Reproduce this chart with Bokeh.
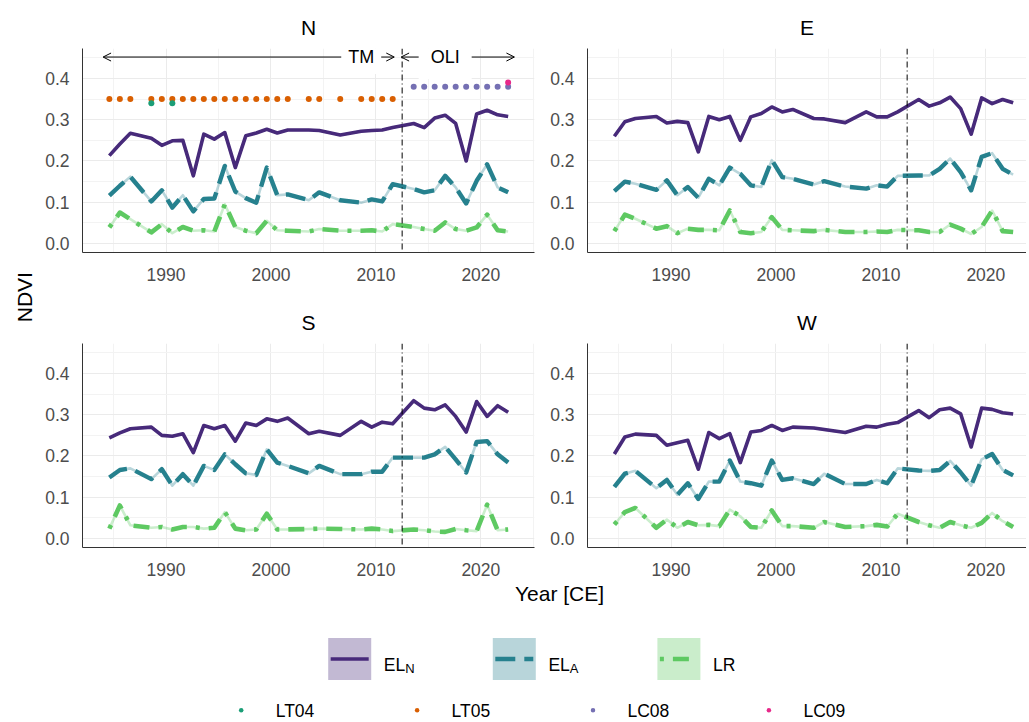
import math
from bokeh.plotting import figure
from bokeh.models import (Range1d, FixedTicker, NumeralTickFormatter, Span, Arrow,
                          OpenHead, Label)
from bokeh.layouts import row, column
from bokeh.embed import file_html
from bokeh.resources import INLINE
from bokeh.core.properties import value

# ---------------- data ----------------
YEARS = [1984.6, 1985.6, 1986.6, 1988.6, 1989.6, 1990.6, 1991.6, 1992.6, 1993.6, 1994.6,
         1995.6, 1996.6, 1997.6, 1998.6, 1999.6, 2000.6, 2001.6, 2003.6, 2004.6, 2006.6,
         2008.6, 2009.6, 2010.6, 2011.6, 2013.6, 2014.6, 2015.6, 2016.6, 2017.6, 2018.6,
         2019.6, 2020.6, 2021.6, 2022.6]

N_ELN = [0.213, 0.241, 0.267, 0.255, 0.238, 0.249, 0.250, 0.164, 0.265, 0.253,
         0.269, 0.184, 0.261, 0.268, 0.277, 0.268, 0.275, 0.275, 0.274, 0.263,
         0.272, 0.274, 0.275, 0.281, 0.291, 0.281, 0.304, 0.311, 0.291, 0.200,
         0.314, 0.323, 0.312, 0.308]
N_ELA = [0.116, 0.140, 0.162, 0.102, 0.129, 0.087, 0.117, 0.078, 0.108, 0.109,
         0.188, 0.126, 0.110, 0.099, 0.184, 0.117, 0.119, 0.105, 0.124, 0.105,
         0.099, 0.107, 0.102, 0.144, 0.132, 0.124, 0.129, 0.164, 0.136, 0.097,
         0.152, 0.192, 0.136, 0.124]
N_LR = [0.039, 0.075, 0.059, 0.027, 0.047, 0.025, 0.040, 0.031, 0.032, 0.029,
        0.095, 0.040, 0.031, 0.025, 0.055, 0.032, 0.031, 0.029, 0.035, 0.031,
        0.031, 0.032, 0.029, 0.047, 0.040, 0.035, 0.031, 0.051, 0.035, 0.031,
        0.039, 0.070, 0.032, 0.029]

E_ELN = [0.260, 0.295, 0.303, 0.308, 0.292, 0.296, 0.293, 0.222, 0.308, 0.300,
         0.308, 0.250, 0.307, 0.315, 0.331, 0.319, 0.325, 0.303, 0.302, 0.293,
         0.319, 0.307, 0.307, 0.319, 0.349, 0.333, 0.341, 0.355, 0.327, 0.265,
         0.353, 0.339, 0.349, 0.341]
E_ELA = [0.127, 0.150, 0.145, 0.130, 0.153, 0.117, 0.137, 0.111, 0.157, 0.141,
         0.184, 0.169, 0.141, 0.137, 0.202, 0.161, 0.157, 0.143, 0.151, 0.138,
         0.133, 0.141, 0.138, 0.164, 0.165, 0.165, 0.181, 0.206, 0.173, 0.129,
         0.210, 0.219, 0.181, 0.167]
E_LR = [0.030, 0.070, 0.060, 0.036, 0.042, 0.025, 0.036, 0.033, 0.033, 0.032,
        0.080, 0.028, 0.025, 0.028, 0.064, 0.033, 0.032, 0.030, 0.033, 0.028,
        0.028, 0.029, 0.028, 0.033, 0.032, 0.028, 0.028, 0.046, 0.036, 0.023,
        0.040, 0.080, 0.030, 0.028]

S_ELN = [0.244, 0.256, 0.266, 0.270, 0.250, 0.248, 0.254, 0.208, 0.274, 0.266,
         0.274, 0.236, 0.280, 0.274, 0.290, 0.284, 0.292, 0.254, 0.260, 0.250,
         0.284, 0.270, 0.282, 0.278, 0.334, 0.316, 0.312, 0.324, 0.296, 0.258,
         0.332, 0.296, 0.322, 0.306]
S_ELA = [0.148, 0.166, 0.170, 0.144, 0.168, 0.128, 0.156, 0.128, 0.176, 0.166,
         0.204, 0.180, 0.158, 0.154, 0.216, 0.184, 0.176, 0.158, 0.176, 0.156,
         0.156, 0.162, 0.162, 0.196, 0.196, 0.196, 0.204, 0.222, 0.192, 0.160,
         0.234, 0.236, 0.204, 0.184]
S_LR = [0.024, 0.080, 0.032, 0.026, 0.028, 0.022, 0.028, 0.028, 0.024, 0.026,
        0.064, 0.024, 0.020, 0.022, 0.060, 0.022, 0.022, 0.023, 0.024, 0.023,
        0.022, 0.024, 0.022, 0.018, 0.022, 0.020, 0.017, 0.016, 0.023, 0.020,
        0.018, 0.082, 0.020, 0.022]

W_ELN = [0.205, 0.246, 0.253, 0.250, 0.226, 0.232, 0.238, 0.168, 0.257, 0.242,
         0.254, 0.184, 0.258, 0.262, 0.274, 0.262, 0.270, 0.268, 0.264, 0.257,
         0.272, 0.270, 0.277, 0.281, 0.310, 0.293, 0.312, 0.316, 0.302, 0.222,
         0.316, 0.313, 0.305, 0.302]
W_ELA = [0.125, 0.157, 0.164, 0.122, 0.142, 0.106, 0.134, 0.096, 0.138, 0.138,
         0.189, 0.138, 0.134, 0.128, 0.189, 0.142, 0.146, 0.132, 0.157, 0.132,
         0.132, 0.142, 0.134, 0.170, 0.165, 0.164, 0.166, 0.188, 0.160, 0.128,
         0.192, 0.205, 0.166, 0.153]
W_LR = [0.034, 0.064, 0.074, 0.026, 0.046, 0.026, 0.040, 0.032, 0.033, 0.030,
        0.070, 0.054, 0.028, 0.026, 0.068, 0.030, 0.030, 0.026, 0.040, 0.028,
        0.030, 0.033, 0.029, 0.060, 0.040, 0.032, 0.026, 0.040, 0.032, 0.026,
        0.038, 0.062, 0.042, 0.028]

# sensor acquisitions (N panel only)
LT04_YEARS = [1988.6, 1990.6]
LT05_YEARS = [1984.6, 1985.6, 1986.6, 1988.6, 1989.6, 1990.6, 1991.6, 1992.6, 1993.6, 1994.6,
              1995.6, 1996.6, 1997.6, 1998.6, 1999.6, 2000.6, 2001.6, 2003.6, 2004.6, 2006.6,
              2008.6, 2009.6, 2010.6, 2011.6]
LC08_YEARS = [2013.6, 2014.6, 2015.6, 2016.6, 2017.6, 2018.6, 2019.6, 2020.6, 2021.6, 2022.6]
LC09_YEARS = [2022.6]
SENSORS = ["LT04", "LT05", "LC08", "LC09"]
SENSOR_LEVELS = [0.34, 0.35, 0.38, 0.39]
SENSOR_COLORS = ["#1b9e77", "#d95f02", "#7570b3", "#e7298a"]

SWITCH_YEAR = 2012.5
TM_ARROW = (1984.0, 2011.75)
OLI_ARROW = (2012.4, 2023.2)
ARROW_Y = 0.452
TM_LABEL_X = 2008.6
OLI_LABEL_X = 2016.6

SERIES = ["EL_N", "EL_A", "LR"]
SERIES_COLORS = ["#472a7a", "#26818e", "#5ec962"]
SERIES_DASH = ["solid", "20 9", "4 9 16 9"]
SERIES_WIDTH = [3.6, 4.4, 4.6]

X_TICKS = [1990, 2000, 2010, 2020]
X_MINOR = [1985, 1995, 2005, 2015, 2025]
Y_TICKS = [0.0, 0.1, 0.2, 0.3, 0.4]
Y_MINOR = [0.05, 0.15, 0.25, 0.35, 0.45]

# ---------------- styling / layout ----------------
FONT = "Liberation Sans"
X_START, X_PER_PX = 1982.04, 1 / 10.494
Y_START, Y_END = -0.0218, 0.4727
FRAME_H = 204


def style_panel(p):
    p.outline_line_color = None
    p.title.text_font = FONT
    p.title.text_font_size = "21px"
    p.title.text_font_style = "normal"
    p.title.text_color = "black"
    p.title.align = "center"
    p.title.standoff = 19
    for ax in (p.xaxis[0], p.yaxis[0]):
        ax.axis_line_color = "#333333"
        ax.axis_line_width = 1
        ax.major_tick_in = 0
        ax.major_tick_out = 0
        ax.minor_tick_in = 0
        ax.minor_tick_out = 0
        ax.major_label_text_font = FONT
        ax.major_label_text_font_size = "17.5px"
        ax.major_label_text_color = "#4d4d4d"
    p.xaxis.major_label_standoff = 15
    p.yaxis.major_label_standoff = 13
    p.xaxis.ticker = FixedTicker(ticks=X_TICKS, minor_ticks=X_MINOR)
    p.yaxis.ticker = FixedTicker(ticks=Y_TICKS, minor_ticks=Y_MINOR)
    p.xaxis.formatter = NumeralTickFormatter(format="0")
    p.yaxis.formatter = NumeralTickFormatter(format="0.0")
    for g in (p.xgrid[0], p.ygrid[0]):
        g.grid_line_color = "#ebebeb"
        g.grid_line_width = 1
        g.minor_grid_line_color = "#f3f3f3"
        g.minor_grid_line_width = 1


def make_panel(title, vals, frame_w, left, right, top, bottom, with_sensors=False):
    x_end = X_START + frame_w * X_PER_PX
    p = figure(title=title, frame_width=frame_w, frame_height=FRAME_H,
               min_border_left=left, min_border_right=right, min_border_top=top,
               min_border_bottom=bottom,
               x_range=Range1d(X_START, x_end), y_range=Range1d(Y_START, Y_END),
               output_backend="svg", toolbar_location=None)
    style_panel(p)
    # ribbons (narrow light bands)
    for v, c in zip(vals, SERIES_COLORS):
        p.line(YEARS, v, line_color=c, line_alpha=0.32, line_width=2.6, line_join="round")
    for v, c, d, w in zip(vals, SERIES_COLORS, SERIES_DASH, SERIES_WIDTH):
        p.line(YEARS, v, line_color=c, line_width=w, line_dash=d, line_join="round")
    p.add_layout(Span(location=SWITCH_YEAR, dimension="height", line_color="black",
                      line_width=1, line_dash="6 3 1 3"))
    if with_sensors:
        all_years = [LT04_YEARS, LT05_YEARS, LC08_YEARS, LC09_YEARS]
        for i in [1, 0, 2, 3]:
            p.scatter(all_years[i], [SENSOR_LEVELS[i]] * len(all_years[i]),
                      size=6, color=SENSOR_COLORS[i], line_color=None)
        for a in (TM_ARROW, OLI_ARROW):
            p.add_layout(Arrow(start=OpenHead(size=8, line_width=1),
                               end=OpenHead(size=8, line_width=1),
                               x_start=a[0], x_end=a[1], y_start=ARROW_Y, y_end=ARROW_Y,
                               line_width=1, line_color="black"))
        for txt, xx, pad in (("TM", TM_LABEL_X, 7), ("OLI", OLI_LABEL_X, 12)):
            p.add_layout(Label(x=xx, y=ARROW_Y, text=txt, text_align="center",
                               text_baseline="middle", text_font=FONT,
                               text_font_size="18px", text_color="black",
                               background_fill_color="white", padding=pad))
    return p


# row 1: 0 -> 289 px, row 2: 289 -> 581 px
pN = make_panel("N", [N_ELN, N_ELA, N_LR], 452, 44, 6, 48, 37, with_sensors=True)
pE = make_panel("E", [E_ELN, E_ELA, E_LR], 439, 47, 0, 48, 37)
pS = make_panel("S", [S_ELN, S_ELA, S_LR], 452, 44, 6, 54, 34)
pW = make_panel("W", [W_ELN, W_ELA, W_LR], 439, 47, 0, 54, 34)

# shared y-axis title
ylab = figure(width=38, height=581, x_range=Range1d(0, 38), y_range=Range1d(581, 0),
              x_axis_location=None, y_axis_location=None, min_border=0,
              output_backend="svg", toolbar_location=None)
ylab.outline_line_color = None
ylab.grid.visible = False
ylab.text(x=[24.2], y=[296.7], text=["NDVI"], angle=math.pi / 2, text_align="center",
          text_baseline="middle", text_font=value(FONT), text_font_size="21px",
          text_color="black")

# x-axis title and legends
leg = figure(width=1026, height=139, x_range=Range1d(0, 1026), y_range=Range1d(720, 581),
             x_axis_location=None, y_axis_location=None, min_border=0,
             output_backend="svg", toolbar_location=None)
leg.outline_line_color = None
leg.grid.visible = False
leg.text(x=[559], y=[593], text=["Year [CE]"], text_align="center", text_baseline="middle",
         text_font=value(FONT), text_font_size="21px", text_color="black")

KEY_X0, KEY_DX, KEY_Y, KEY_W, KEY_H = 349.2, 164.6, 658.5, 43, 42
LABEL_MAIN = ["EL", "EL", "LR"]
LABEL_SUB = ["N", "A", ""]
for i, (c, d, w) in enumerate(zip(SERIES_COLORS, SERIES_DASH, SERIES_WIDTH)):
    cx = KEY_X0 + i * KEY_DX
    leg.rect(x=[cx], y=[KEY_Y], width=KEY_W, height=KEY_H, fill_color=c, fill_alpha=0.33,
             line_color=None)
    leg.line(x=[cx - 19, cx + 19], y=[KEY_Y, KEY_Y], line_color=c, line_width=w,
             line_dash=d)
    lx = cx + KEY_W / 2 + 12.6
    leg.text(x=[lx], y=[KEY_Y + 5.8], text=[LABEL_MAIN[i]], text_align="left",
             text_baseline="alphabetic", text_font=value(FONT), text_font_size="17.5px",
             text_color="black")
    if LABEL_SUB[i]:
        leg.text(x=[lx + 21.4], y=[KEY_Y + 9.2], text=[LABEL_SUB[i]], text_align="left",
                 text_baseline="alphabetic", text_font=value(FONT), text_font_size="13px",
                 text_color="black")

DOT_X0, DOT_DX, DOT_Y = 240.7, 175.9, 710.5
for i, (name, c) in enumerate(zip(SENSORS, SENSOR_COLORS)):
    dx = DOT_X0 + i * DOT_DX
    leg.scatter(x=[dx], y=[DOT_Y - 0.8], size=4.5, color=c, line_color=None)
    leg.text(x=[dx + 34.5], y=[DOT_Y], text=[name], text_align="left",
             text_baseline="middle", text_font=value(FONT), text_font_size="17.5px",
             text_color="black")

layout = column(row(ylab, column(row(pN, pE), row(pS, pW))), leg)

with open("out.html", "w") as f:
    f.write(file_html(layout, INLINE))
